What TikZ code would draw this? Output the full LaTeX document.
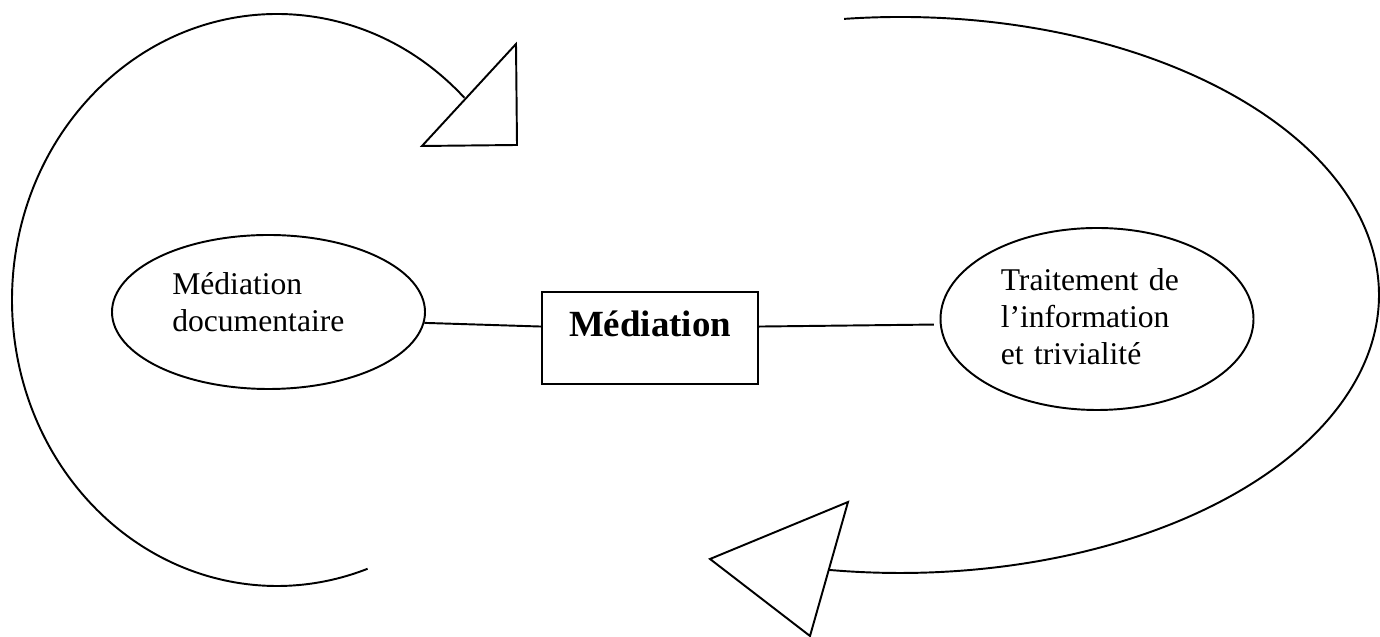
\documentclass[tikz,border=0pt]{standalone}
\usepackage{fontspec}
\setmainfont{Liberation Serif}
\usepackage{tikz}
\usetikzlibrary{calc,shapes.geometric}

\begin{document}
\begin{tikzpicture}[line width=1.1pt,
 bubble/.style={draw, ellipse, inner sep=0pt, text width=3.85cm, align=left,
  text height=0.5cm, font=\fontsize{18}{21}\selectfont},
 mainbox/.style={draw, rectangle, inner sep=0pt, minimum width=4.32cm,
  text height=0.9cm, text depth=0.94cm, font=\fontsize{21}{24}\selectfont\bfseries}]
\useasboundingbox (0,0) rectangle (27.6,12.74);
\coordinate (lc) at (5.54,6.74);
\coordinate (rc) at (18,6.84);
\draw ($(lc)+(45:5.3 and 5.72)$) arc [start angle=45, end angle=290, x radius=5.3, y radius=5.72];
\draw (8.44,9.82) -- (10.34,9.84) -- (10.32,11.86) -- cycle;
\draw ($(rc)+(96.7:9.58 and 5.56)$) arc [start angle=96.7, end angle=-98.5, x radius=9.58, y radius=5.56];
\draw (14.2,1.56) -- (16.96,2.7) -- (16.2,0.02) -- cycle;
\node [bubble, minimum width=6.26cm, minimum height=3.08cm, text depth=1.18cm] (doc) at (5.37,6.5) {Médiation\\documentaire};
\node [mainbox] (med) at (13,5.98) {Médiation};
\node [bubble, minimum width=6.26cm, minimum height=3.64cm, text depth=1.62cm] (info) at (21.94,6.36) {Traitement de\\l’information\\et trivialité};
\draw (doc.-4) -- (med.174);
\draw [shorten >=0.12cm] (med.6) -- (info.182);
\end{tikzpicture}
\end{document}
